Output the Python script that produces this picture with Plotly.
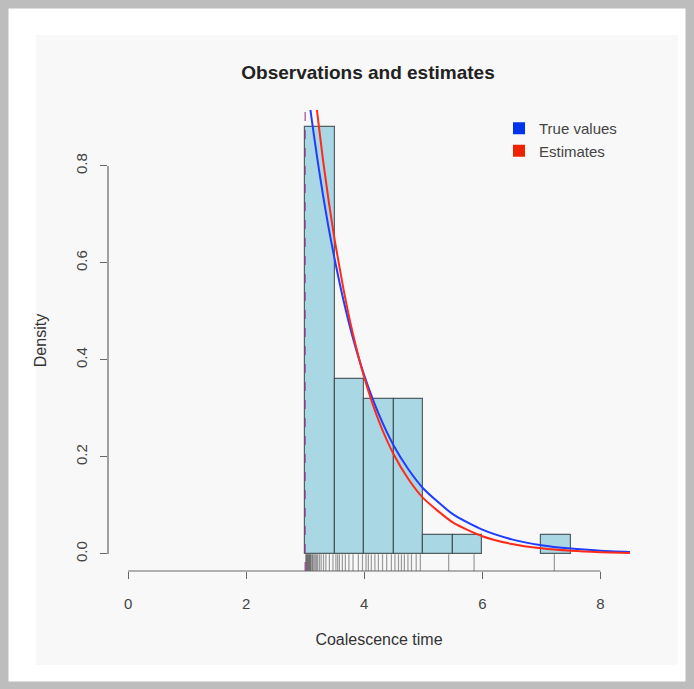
import plotly.graph_objects as go

# ---------------- data ----------------
# observed coalescence times (read from rug / histogram)
observations = [3.01, 3.02, 3.03, 3.04, 3.05, 3.06, 3.07, 3.08, 3.09, 3.10,
                3.12, 3.13, 3.15, 3.17, 3.19, 3.21, 3.24, 3.27, 3.31, 3.35,
                3.41, 3.47,
                3.52, 3.55, 3.58, 3.63, 3.68, 3.74, 3.81, 3.90, 3.97,
                4.03, 4.07, 4.12, 4.18, 4.24, 4.31, 4.38, 4.46,
                4.52, 4.58, 4.63, 4.68, 4.74, 4.80, 4.88, 4.95,
                5.43, 5.86, 7.22]

curve_x = [3.0, 3.1, 3.2, 3.3, 3.4, 3.5, 3.65, 3.8, 4.0, 4.25, 4.5, 4.75,
           5.0, 5.5, 6.0, 6.5, 7.0, 7.5, 8.0, 8.5]
true_density = [1.000, 0.905, 0.819, 0.741, 0.670, 0.607, 0.522, 0.449, 0.368,
                0.287, 0.223, 0.174, 0.135, 0.082, 0.050, 0.030, 0.018, 0.011,
                0.0067, 0.0041]
est_density = [1.150, 1.025, 0.914, 0.814, 0.726, 0.647, 0.545, 0.458, 0.364,
               0.273, 0.205, 0.154, 0.115, 0.065, 0.0365, 0.0205, 0.0116,
               0.0065, 0.0037, 0.0021]

true_location = 3.0
est_location = 3.0

x_ticks = [0, 2, 4, 6, 8]
y_ticks = [0.0, 0.2, 0.4, 0.6, 0.8]

# ---------------- layout geometry ----------------
W, H = 694, 689
ML, MR, MT, MB = 108, 44, 110, 118
PW, PH = W - ML - MR, H - MT - MB
x_range = [-0.34, 8.84]
y_range = [-0.0352, 0.9152]


def px_x(px):
    return (px - ML) / PW


def px_y(py):
    return (H - MB - py) / PH


FONT = "Liberation Sans, Arial, Helvetica, sans-serif"
BLUE = "#1f3cff"
RED = "#ff2a1a"

fig = go.Figure()

fig.add_trace(go.Histogram(
    x=observations,
    histnorm="probability density",
    xbins=dict(start=3.0, end=7.5, size=0.5),
    marker=dict(color="#a9d7e3", line=dict(color="rgba(60,72,78,0.85)", width=1.2)),
    showlegend=False,
    hoverinfo="skip",
))

fig.add_trace(go.Scatter(
    x=curve_x, y=true_density, mode="lines",
    line=dict(color=BLUE, width=2, shape="spline", smoothing=0.6),
    showlegend=False, hoverinfo="skip",
))
fig.add_trace(go.Scatter(
    x=curve_x, y=est_density, mode="lines",
    line=dict(color=RED, width=2, shape="spline", smoothing=0.6),
    showlegend=False, hoverinfo="skip",
))

# rug
rug_y = y_range[0] + 0.015 * (y_range[1] - y_range[0])
fig.add_trace(go.Scatter(
    x=observations, y=[rug_y] * len(observations), mode="markers",
    marker=dict(symbol="line-ns", size=14,
                line=dict(color="rgba(60,60,60,0.5)", width=1.2)),
    showlegend=False, hoverinfo="skip",
))

# legend entries
fig.add_trace(go.Scatter(x=[None], y=[None], mode="markers", name="True values",
                         marker=dict(symbol="square", size=10, color="#0033ee")))
fig.add_trace(go.Scatter(x=[None], y=[None], mode="markers", name="Estimates",
                         marker=dict(symbol="square", size=10, color="#ee2200")))

shapes = [
    # outer frame
    dict(type="rect", xref="paper", yref="paper", layer="below",
         x0=px_x(4), x1=px_x(W - 4), y0=px_y(H - 3), y1=px_y(4),
         line=dict(color="#bdbdbd", width=9), fillcolor="white"),
    # light grey plotting region
    dict(type="rect", xref="paper", yref="paper", layer="below",
         x0=px_x(36), x1=px_x(678), y0=px_y(665), y1=px_y(35),
         line=dict(width=0), fillcolor="#f8f8f8"),
    # axis lines (R-style, from first to last tick)
    dict(type="line", xref="x", yref="paper", x0=x_ticks[0], x1=x_ticks[-1],
         y0=0, y1=0, line=dict(color="#666", width=1.2)),
    dict(type="line", xref="paper", yref="y", x0=0, x1=0,
         y0=y_ticks[0], y1=y_ticks[-1], line=dict(color="#666", width=1.2)),
    # location lines
    dict(type="line", xref="x", yref="paper", x0=true_location, x1=true_location,
         y0=0, y1=1, line=dict(color="rgba(40,60,255,0.55)", width=1.3, dash="dash")),
    dict(type="line", xref="x", yref="paper", x0=est_location, x1=est_location,
         y0=0, y1=1, line=dict(color="rgba(255,40,40,0.45)", width=1.3, dash="dash")),
]

fig.update_layout(
    width=W, height=H,
    margin=dict(l=ML, r=MR, t=MT, b=MB),
    paper_bgcolor="white",
    plot_bgcolor="rgba(0,0,0,0)",
    font=dict(family=FONT, color="#333", size=15),
    title=dict(text="<b>Observations and estimates</b>",
               font=dict(family=FONT, size=19, color="#222"),
               x=368 / W, xref="container", xanchor="center",
               y=1 - 72 / H, yref="container", yanchor="middle"),
    bargap=0,
    shapes=shapes,
    showlegend=True,
    legend=dict(x=px_x(499), y=px_y(112), xanchor="left", yanchor="top",
                bgcolor="rgba(0,0,0,0)", font=dict(size=15, color="#444"),
                itemsizing="constant"),
    xaxis=dict(range=x_range, tickvals=x_ticks, ticktext=[str(v) for v in x_ticks],
               showgrid=False, zeroline=False, showline=False,
               ticks="outside", ticklen=7, tickcolor="#666", tickwidth=1.2,
               ticklabelstandoff=12, tickfont=dict(size=15, color="#444"),
               title=dict(text="Coalescence time", font=dict(size=16, color="#333"),
                          standoff=22)),
    yaxis=dict(range=y_range, tickvals=y_ticks, tickformat=".1f",
               showgrid=False, zeroline=False, showline=False,
               ticks="outside", ticklen=7, tickcolor="#666", tickwidth=1.2,
               tickangle=-90, ticklabelstandoff=7,
               tickfont=dict(size=15, color="#444"),
               title=dict(text="Density", font=dict(size=16, color="#333"),
                          standoff=22)),
)

fig.write_html("out.html")
